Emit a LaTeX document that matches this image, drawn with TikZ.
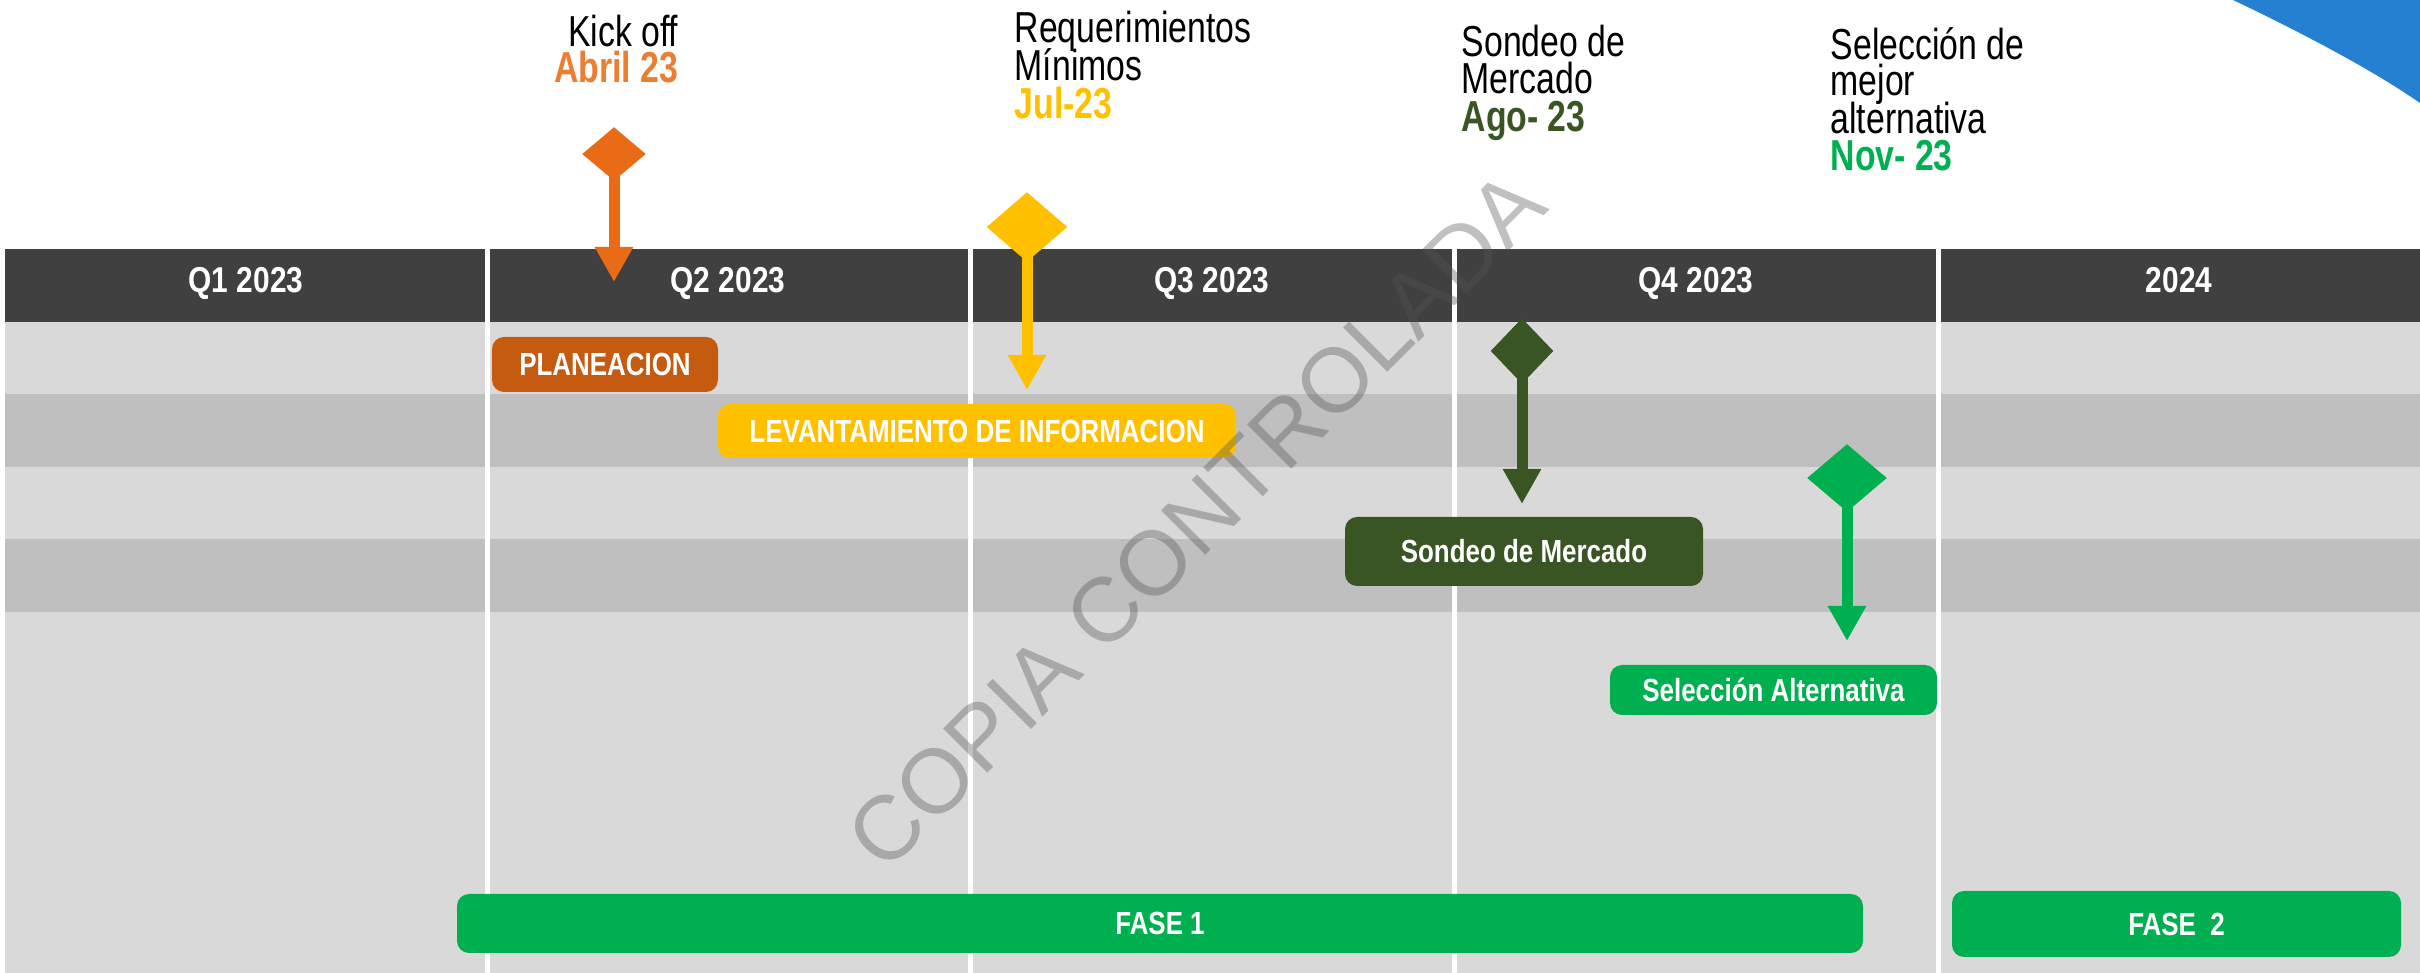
\documentclass[tikz,border=0pt]{standalone}
\usepackage{fontspec}
\setmainfont{Liberation Sans}
\newfontfamily\lblfont{Liberation Sans}[FakeStretch=0.78]
\newfontfamily\hdrfont{Liberation Sans}[FakeStretch=0.83]
\newfontfamily\barfont{Liberation Sans}[FakeStretch=0.81]
\usetikzlibrary{shapes.geometric,arrows.meta}
\definecolor{hdr}{HTML}{404040}
\definecolor{rowA}{HTML}{D9D9D9}
\definecolor{rowB}{HTML}{BFBFBF}
\definecolor{orgD}{HTML}{E96B15}
\definecolor{orgT}{HTML}{ED7D31}
\definecolor{planC}{HTML}{C55A11}
\definecolor{yel}{HTML}{FFC000}
\definecolor{dgrn}{HTML}{3A5524}
\definecolor{grn}{HTML}{00B050}
\definecolor{blu}{HTML}{2680D2}
\definecolor{wmc}{HTML}{555555}
\tikzset{
  hdrtxt/.style={text=white, inner sep=0pt, text height=7.7pt, text depth=0pt,
    font=\hdrfont\bfseries\fontsize{10.8}{12}\selectfont},
  bartxt/.style={rounded corners=3.6pt, inner sep=0pt, text=white,
    text height=6.9pt, text depth=0pt,
    font=\barfont\bfseries\fontsize{9.6}{11}\selectfont},
  lbl/.style={inner sep=0pt, font=\lblfont\fontsize{13}{14}\selectfont},
  lblb/.style={inner sep=0pt, font=\lblfont\bfseries\fontsize{13}{14}\selectfont},
  ms/.style={diamond, inner sep=0pt, draw=none},
  stem/.style={line width=3.3pt, -{Triangle[width=10.8pt,length=10.5pt]}, shorten <=-8pt},
  sep/.style={white, line width=1.5pt}
}
\begin{document}
\begin{tikzpicture}[x=0.3pt,y=-0.3pt]
\useasboundingbox (0,0) rectangle (2420,973);
% blue corner
\fill[blu] (2233,0) .. controls (2290,27) and (2370,68) .. (2420,103) -- (2420,0) -- cycle;
% background rows
\fill[rowA] (5,322) rectangle (2420,394);
\fill[rowB] (5,394) rectangle (2420,467);
\fill[rowA] (5,467) rectangle (2420,539);
\fill[rowB] (5,539) rectangle (2420,612);
\fill[rowA] (5,612) rectangle (2420,973);
% header
\fill[hdr] (5,249) rectangle (2420,322);
\draw[sep] (487,249) -- (487,973);
\draw[sep] (970,249) -- (970,973);
\draw[sep] (1454,249) -- (1454,973);
\draw[sep] (1938,249) -- (1938,973);
\node[hdrtxt] (q1) at (246,280) {Q1 2023};
\node[hdrtxt] (q2) at (728,280) {Q2 2023};
\node[hdrtxt] (q3) at (1212,280) {Q3 2023};
\node[hdrtxt] (q4) at (1696,280) {Q4 2023};
\node[hdrtxt] (y24) at (2179,280) {2024};
% bars
\node[bartxt, fill=planC, minimum width=67.8pt, minimum height=16.5pt] (plan) at (605,364.5) {PLANEACION};
\node[bartxt, fill=yel, minimum width=155.4pt, minimum height=16.2pt] (lev) at (977,431) {LEVANTAMIENTO DE INFORMACION};
\node[bartxt, fill=dgrn, minimum width=107.4pt, minimum height=20.7pt] (son) at (1524,551.5) {Sondeo de Mercado};
\node[bartxt, fill=grn, minimum width=98.1pt, minimum height=15pt] (sel) at (1773.5,690) {Selección Alternativa};
\node[bartxt, fill=grn, minimum width=421.8pt, minimum height=17.7pt] (f1) at (1160,923.5) {FASE 1};
\node[bartxt, fill=grn, minimum width=134.7pt, minimum height=19.8pt] (f2) at (2176.5,924) {FASE\ \ 2};
% milestones
\node[ms, fill=orgD, minimum width=19.2pt, minimum height=16.2pt] (d1) at (614,154) {};
\coordinate (t1) at (614,282);
\draw[stem, orgD] (d1) -- (t1);
\node[ms, fill=yel, minimum width=24.3pt, minimum height=21pt] (d2) at (1027,227) {};
\coordinate (t2) at (1027,390);
\draw[stem, yel] (d2) -- (t2);
\node[ms, fill=dgrn, minimum width=18.9pt, minimum height=19.8pt] (d3) at (1522,351) {};
\coordinate (t3) at (1522,504);
\draw[stem, dgrn] (d3) -- (t3);
\node[ms, fill=grn, minimum width=24pt, minimum height=20.4pt] (d4) at (1847,478) {};
\coordinate (t4) at (1847,641);
\draw[stem, grn] (d4) -- (t4);
% labels
\node[lbl, anchor=base east] (ko1) at (679,47) {Kick off};
\node[lblb, anchor=base east, text=orgT] (ko2) at (679,83) {Abril 23};
\node[lbl, anchor=base west] (rq1) at (1014,43) {Requerimientos};
\node[lbl, anchor=base west] (rq2) at (1014,81) {Mínimos};
\node[lblb, anchor=base west, text=yel] (rq3) at (1014,119) {Jul-23};
\node[lbl, anchor=base west] (sm1) at (1461,57) {Sondeo de};
\node[lbl, anchor=base west] (sm2) at (1461,94) {Mercado};
\node[lblb, anchor=base west, text=dgrn] (sm3) at (1461,132) {Ago- 23};
\node[lbl, anchor=base west] (sa1) at (1830,60) {Selección de};
\node[lbl, anchor=base west] (sa2) at (1830,96) {mejor};
\node[lbl, anchor=base west] (sa3) at (1830,134) {alternativa};
\node[lblb, anchor=base west, text=grn] (sa4) at (1830,171) {Nov- 23};
% watermark
\node[rotate=45, text=wmc, text opacity=0.37, inner sep=0pt,
  font=\fontsize{27.3}{30}\selectfont] (wm) at (1196,520) {COPIA CONTROLADA};
\end{tikzpicture}
\end{document}
